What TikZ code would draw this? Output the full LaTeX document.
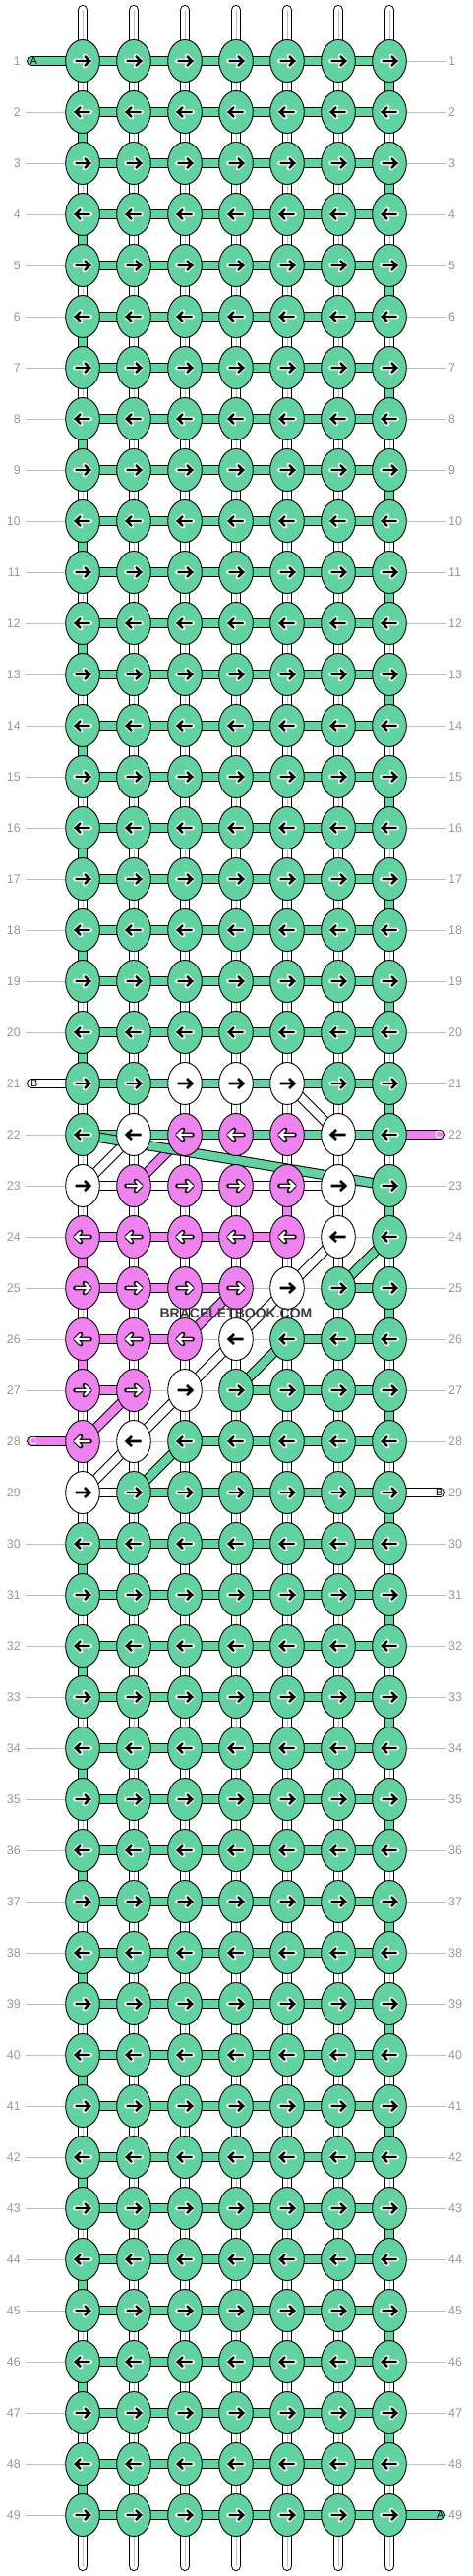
\documentclass[tikz,border=0pt]{standalone}
\usepackage{fontspec}
\setmainfont{Liberation Sans}
\usetikzlibrary{shapes.geometric}
\definecolor{gr}{HTML}{62D3A0}
\definecolor{pk}{HTML}{EE82EE}
\definecolor{lbl}{HTML}{999999}
\definecolor{rl}{HTML}{BDBDBD}
\definecolor{wm}{HTML}{3C3C3C}
\pgfdeclarelayer{bgl}\pgfdeclarelayer{rows}\pgfdeclarelayer{vert}\pgfdeclarelayer{horiz}\pgfdeclarelayer{diag}
\pgfsetlayers{bgl,rows,vert,horiz,diag,main}
% knot colours per row
\expandafter\def\csname knots21\endcsname{G,G,W,W,W,G,G}
\expandafter\def\csname knots22\endcsname{G,W,P,P,P,W,G}
\expandafter\def\csname knots23\endcsname{W,P,P,P,P,W,G}
\expandafter\def\csname knots24\endcsname{P,P,P,P,P,W,G}
\expandafter\def\csname knots25\endcsname{P,P,P,P,W,G,G}
\expandafter\def\csname knots26\endcsname{P,P,P,W,G,G,G}
\expandafter\def\csname knots27\endcsname{P,P,W,G,G,G,G}
\expandafter\def\csname knots28\endcsname{P,W,G,G,G,G,G}
\expandafter\def\csname knots29\endcsname{W,G,G,G,G,G,G}
% horizontal connectors per row
\expandafter\def\csname hbars23\endcsname{W,W,W,W,W,N}
\expandafter\def\csname hbars24\endcsname{P,P,P,P,N,N}
\expandafter\def\csname hbars25\endcsname{P,P,P,N,N,G}
\expandafter\def\csname hbars26\endcsname{P,P,N,N,G,G}
\expandafter\def\csname hbars27\endcsname{P,N,N,G,G,G}
\expandafter\def\csname hbars28\endcsname{N,N,G,G,G,G}
\expandafter\def\csname hbars29\endcsname{W,G,G,G,G,G}
% vertical connectors between row r and r+1
\expandafter\def\csname vbars22\endcsname{D,D,D,D,D,D,D}
\expandafter\def\csname vbars23\endcsname{D,D,D,D,P,D,G}
\expandafter\def\csname vbars24\endcsname{P,D,D,D,D,D,D}
\expandafter\def\csname vbars26\endcsname{P,D,D,D,D,D,D}
\expandafter\def\csname vbars28\endcsname{D,D,D,D,D,D,D}
\newcommand\conn[3]{%
  \if#1G\draw[barG] (#2)--(#3);\fi
  \if#1P\draw[barP] (#2)--(#3);\fi
  \if#1W\draw[barW] (#2)--(#3);\fi
  \if#1D\draw[dbl] (#2)--(#3);\draw[dblmid] (#2)--(#3);\fi}
\newcommand\arrowpath{(-7.5,0)--(6.8,0) (2,-5)--(7.3,0)--(2,5)}
\begin{document}
\begin{tikzpicture}[x=1pt,y=-1pt,
  knot/.style={ellipse,draw=black,line width=0.9pt,minimum width=34.6pt,minimum height=43pt,inner sep=0pt},
  knotG/.style={knot,fill=gr}, knotP/.style={knot,fill=pk}, knotW/.style={knot,fill=white},
  barG/.style={draw=black,line width=1pt,double=gr,double distance=8.4pt},
  barP/.style={draw=black,line width=1pt,double=pk,double distance=8.4pt},
  barW/.style={draw=black,line width=1pt,double=white,double distance=8.4pt},
  dbl/.style={draw=black,line width=1pt,double=white,double distance=8.8pt},
  dblmid/.style={draw=rl,line width=0.8pt},
  rowline/.style={draw=rl,line width=0.9pt},
  lab/.style={text=lbl,font=\fontsize{12.5}{14}\selectfont,inner sep=0pt},
  pilltxt/.style={font=\fontsize{10.5}{12}\selectfont,inner sep=0pt},
  arrcore/.style={line width=2.4pt,line cap=butt,line join=miter},
  arrhalo/.style={line width=4.6pt,line cap=round,line join=round}]
\useasboundingbox (0,0) rectangle (480,2620);
\begin{pgfonlayer}{bgl}
\fill[white] (0,0) rectangle (480,2620);
\end{pgfonlayer}
% knots
\foreach \kr in {1,...,49}{
  \pgfmathsetmacro\ky{62+52*(\kr-1)}
  \ifcsname knots\kr\endcsname\edef\lst{\csname knots\kr\endcsname}\else\def\lst{G,G,G,G,G,G,G}\fi
  \ifodd\kr\relax\def\ad{1}\else\def\ad{-1}\fi
  \foreach \kt [count=\kc] in \lst {
    \pgfmathsetmacro\kx{84+52*(\kc-1)}
    \if\kt G\node[knotG] (k-\kr-\kc) at (\kx,\ky) {};
      \begin{scope}[shift={(\kx,\ky)},xscale=\ad]
        \draw[arrhalo,white] \arrowpath; \draw[arrcore,black] \arrowpath;
      \end{scope}\fi
    \if\kt P\node[knotP] (k-\kr-\kc) at (\kx,\ky) {};
      \begin{scope}[shift={(\kx,\ky)},xscale=\ad]
        \draw[arrhalo,black] \arrowpath; \draw[arrcore,white] \arrowpath;
      \end{scope}\fi
    \if\kt W\node[knotW] (k-\kr-\kc) at (\kx,\ky) {};
      \begin{scope}[shift={(\kx,\ky)},xscale=\ad]
        \draw[arrcore,black,line width=2.6pt] \arrowpath;
      \end{scope}\fi
  }
}
% row lines and labels
\begin{pgfonlayer}{rows}
\foreach \kr in {1,...,49}{
  \pgfmathsetmacro\ky{62+52*(\kr-1)}
  \coordinate (rl\kr) at (26,\ky); \coordinate (rr\kr) at (454,\ky);
  \draw[rowline] (rl\kr)--(rr\kr);
  \node[lab,anchor=east] (ll\kr) at (21,\ky) {\kr};
  \node[lab,anchor=west] (lr\kr) at (456,\ky) {\kr};
}
\end{pgfonlayer}
% vertical connectors
\begin{pgfonlayer}{vert}
\foreach \kr in {1,...,48}{
  \pgfmathtruncatemacro\rn{\kr+1}
  \ifcsname vbars\kr\endcsname\edef\lst{\csname vbars\kr\endcsname}\else
    \ifodd\kr\relax\def\lst{D,D,D,D,D,D,G}\else\def\lst{G,D,D,D,D,D,D}\fi\fi
  \foreach \vv [count=\kc] in \lst {\conn{\vv}{k-\kr-\kc.center}{k-\rn-\kc.center}}
}
\foreach \kc in {1,...,7}{
  \pgfmathsetmacro\kx{84+52*(\kc-1)}
  \coordinate (top\kc) at (\kx,10.3); \coordinate (bot\kc) at (\kx,2609.7);
  \draw[dbl,line cap=round] (top\kc)--(k-1-\kc.center); \draw[dblmid] (top\kc)--(k-1-\kc.center);
  \draw[dbl,line cap=round] (bot\kc)--(k-49-\kc.center); \draw[dblmid] (bot\kc)--(k-49-\kc.center);
}
\end{pgfonlayer}
% horizontal connectors and pills
\begin{pgfonlayer}{horiz}
\foreach \kr in {1,...,49}{
  \ifcsname hbars\kr\endcsname\edef\lst{\csname hbars\kr\endcsname}\else\def\lst{G,G,G,G,G,G}\fi
  \foreach \hh [count=\kc] in \lst {
    \pgfmathtruncatemacro\cn{\kc+1}
    \conn{\hh}{k-\kr-\kc.center}{k-\kr-\cn.center}
  }
}
\coordinate (pA1) at (32.2,62);    \draw[barG,line cap=round] (pA1)--(k-1-1.center);
\coordinate (pB1) at (32.2,1102);  \draw[barW,line cap=round] (pB1)--(k-21-1.center);
\coordinate (pC1) at (447.8,1154); \draw[barP,line cap=round] (pC1)--(k-22-7.center);
\coordinate (pC2) at (32.2,1466);  \draw[barP,line cap=round] (pC2)--(k-28-1.center);
\coordinate (pB2) at (447.8,1518); \draw[barW,line cap=round] (pB2)--(k-29-7.center);
\coordinate (pA2) at (447.8,2558); \draw[barG,line cap=round] (pA2)--(k-49-7.center);
\end{pgfonlayer}
% diagonal connectors
\begin{pgfonlayer}{diag}
\draw[barW] (k-21-5.center)--(k-22-6.center);
\draw[barW] (k-22-2.center)--(k-23-1.center);
\draw[barW] (k-24-6.center)--(k-25-5.center)--(k-26-4.center)--(k-27-3.center)--(k-28-2.center)--(k-29-1.center);
\draw[barP] (k-22-3.center)--(k-23-2.center);
\draw[barP] (k-25-4.center)--(k-26-3.center);
\draw[barP] (k-27-2.center)--(k-28-1.center);
\draw[barG] (k-22-1.center)--(k-23-7.center);
\draw[barG] (k-24-7.center)--(k-25-6.center);
\draw[barG] (k-26-5.center)--(k-27-4.center);
\draw[barG] (k-28-3.center)--(k-29-2.center);
\end{pgfonlayer}
% pill letters
\node[pilltxt] (tA1) at (34.5,62) {A};
\node[pilltxt] (tB1) at (35,1102) {B};
\node[pilltxt,text=white] (tC1) at (446,1154) {C};
\node[pilltxt,text=white] (tC2) at (34,1466) {C};
\node[pilltxt] (tB2) at (446.5,1518) {B};
\node[pilltxt] (tA2) at (447.5,2558) {A};
% watermark
\node[font=\fontsize{14}{16}\bfseries\selectfont,text=wm,inner sep=0pt] (wm) at (240,1336) {BRACELETBOOK.COM};
\end{tikzpicture}
\end{document}
